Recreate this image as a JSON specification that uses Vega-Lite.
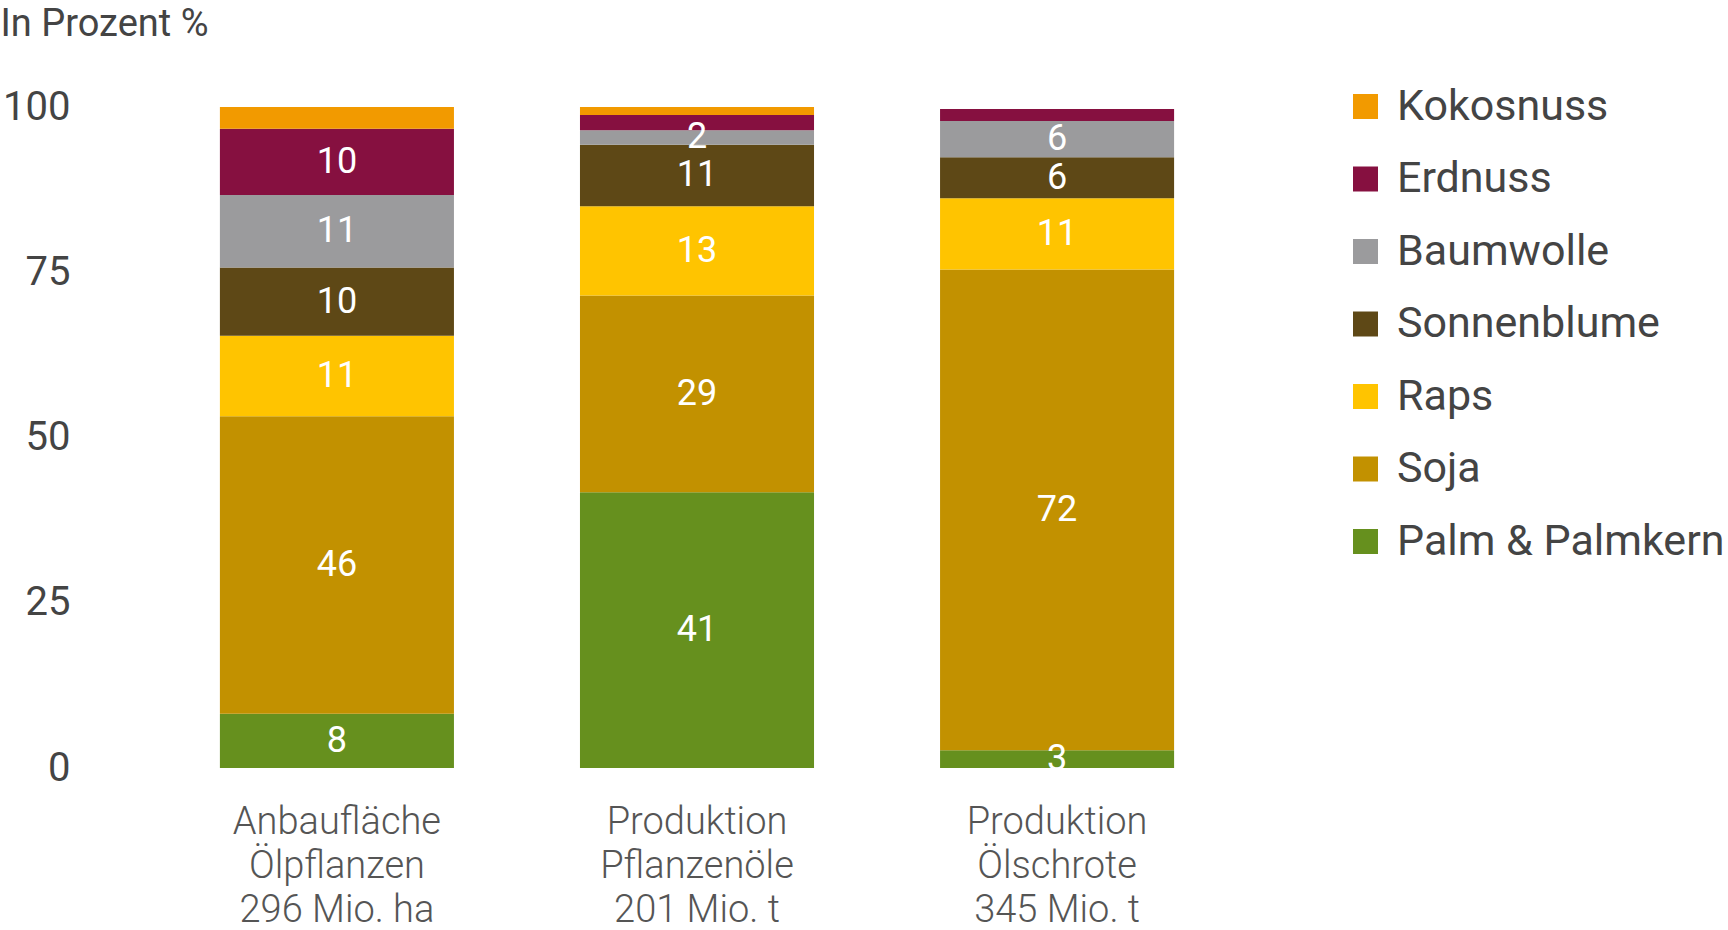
{
  "$schema": "https://vega.github.io/schema/vega-lite/v6.json",
  "width": 1194,
  "height": 661,
  "autosize": {"type": "none"},
  "padding": {"left": 100, "top": 107, "right": 434, "bottom": 162},
  "background": "white",
  "config": {"view": {"stroke": null}, "font": "Roboto"},
  "data": {
    "values": [
      {"kategorie": "Anbaufläche|Ölpflanzen|296 Mio. ha", "sorte": "Palm & Palmkern", "wert": 8.2, "label": "8", "ordnung": 1},
      {"kategorie": "Anbaufläche|Ölpflanzen|296 Mio. ha", "sorte": "Soja", "wert": 45, "label": "46", "ordnung": 2},
      {"kategorie": "Anbaufläche|Ölpflanzen|296 Mio. ha", "sorte": "Raps", "wert": 12.2, "label": "11", "ordnung": 3},
      {"kategorie": "Anbaufläche|Ölpflanzen|296 Mio. ha", "sorte": "Sonnenblume", "wert": 10.3, "label": "10", "ordnung": 4},
      {"kategorie": "Anbaufläche|Ölpflanzen|296 Mio. ha", "sorte": "Baumwolle", "wert": 11, "label": "11", "ordnung": 5},
      {"kategorie": "Anbaufläche|Ölpflanzen|296 Mio. ha", "sorte": "Erdnuss", "wert": 10, "label": "10", "ordnung": 6},
      {"kategorie": "Anbaufläche|Ölpflanzen|296 Mio. ha", "sorte": "Kokosnuss", "wert": 3.3, "label": "", "ordnung": 7},
      {"kategorie": "Produktion|Pflanzenöle|201 Mio. t", "sorte": "Palm & Palmkern", "wert": 41.7, "label": "41", "ordnung": 1},
      {"kategorie": "Produktion|Pflanzenöle|201 Mio. t", "sorte": "Soja", "wert": 29.8, "label": "29", "ordnung": 2},
      {"kategorie": "Produktion|Pflanzenöle|201 Mio. t", "sorte": "Raps", "wert": 13.5, "label": "13", "ordnung": 3},
      {"kategorie": "Produktion|Pflanzenöle|201 Mio. t", "sorte": "Sonnenblume", "wert": 9.3, "label": "11", "ordnung": 4},
      {"kategorie": "Produktion|Pflanzenöle|201 Mio. t", "sorte": "Baumwolle", "wert": 2.2, "label": "2", "ordnung": 5},
      {"kategorie": "Produktion|Pflanzenöle|201 Mio. t", "sorte": "Erdnuss", "wert": 2.3, "label": "", "ordnung": 6},
      {"kategorie": "Produktion|Pflanzenöle|201 Mio. t", "sorte": "Kokosnuss", "wert": 1.2, "label": "", "ordnung": 7},
      {"kategorie": "Produktion|Ölschrote|345 Mio. t", "sorte": "Palm & Palmkern", "wert": 2.7, "label": "3", "ordnung": 1},
      {"kategorie": "Produktion|Ölschrote|345 Mio. t", "sorte": "Soja", "wert": 72.7, "label": "72", "ordnung": 2},
      {"kategorie": "Produktion|Ölschrote|345 Mio. t", "sorte": "Raps", "wert": 10.8, "label": "11", "ordnung": 3},
      {"kategorie": "Produktion|Ölschrote|345 Mio. t", "sorte": "Sonnenblume", "wert": 6.2, "label": "6", "ordnung": 4},
      {"kategorie": "Produktion|Ölschrote|345 Mio. t", "sorte": "Baumwolle", "wert": 5.5, "label": "6", "ordnung": 5},
      {"kategorie": "Produktion|Ölschrote|345 Mio. t", "sorte": "Erdnuss", "wert": 1.8, "label": "", "ordnung": 6}
    ]
  },
  "transform": [
    {"stack": "wert", "groupby": ["kategorie"], "sort": [{"field": "ordnung", "order": "ascending"}], "as": ["unten", "oben"]}
  ],
  "encoding": {
    "x": {
      "field": "kategorie",
      "type": "nominal",
      "sort": null,
      "scale": {"paddingInner": 0.35, "paddingOuter": 0.333},
      "axis": {
        "title": null,
        "labelAngle": 0,
        "domain": false,
        "ticks": false,
        "labelExpr": "split(datum.label, '|')",
        "labelFontSize": 38,
        "labelColor": "#555555",
        "labelFontWeight": 300,
        "labelLineHeight": 44,
        "labelPadding": 35,
        "labelLimit": 500
      }
    }
  },
  "layer": [
    {
      "mark": {"type": "bar"},
      "encoding": {
        "y": {
          "field": "unten",
          "type": "quantitative",
          "scale": {"domain": [0, 100], "nice": false},
          "axis": {
            "title": "In Prozent %",
            "titleAngle": 0,
            "titleAlign": "left",
            "titleBaseline": "middle",
            "titleX": -100,
            "titleY": -83,
            "titleFontSize": 38,
            "titleFontWeight": "normal",
            "titleColor": "#444444",
            "values": [0, 25, 50, 75, 100],
            "labelFontSize": 40,
            "labelColor": "#444444",
            "domain": false,
            "ticks": false,
            "grid": false,
            "labelPadding": 30
          }
        },
        "y2": {"field": "oben"},
        "color": {
          "field": "sorte",
          "type": "nominal",
          "scale": {
            "domain": ["Kokosnuss", "Erdnuss", "Baumwolle", "Sonnenblume", "Raps", "Soja", "Palm & Palmkern"],
            "range": ["#F29A00", "#861040", "#9B9B9D", "#5E4816", "#FFC400", "#C29100", "#66901E"]
          },
          "legend": {
            "title": null,
            "orient": "none",
            "legendX": 1244,
            "legendY": -22,
            "symbolType": "square",
            "symbolSize": 625,
            "symbolStrokeWidth": 0,
            "labelFontSize": 43,
            "labelColor": "#444444",
            "labelLimit": 500,
            "rowPadding": 28.5,
            "labelOffset": 10,
            "padding": 0
          }
        }
      }
    },
    {
      "transform": [
        {"fold": ["unten", "oben"], "as": ["grenze", "pos"]},
        {"aggregate": [{"op": "mean", "field": "pos", "as": "mitte"}], "groupby": ["kategorie", "sorte", "label"]}
      ],
      "mark": {"type": "text", "color": "white", "fontSize": 36, "baseline": "middle"},
      "encoding": {
        "y": {
          "field": "mitte",
          "type": "quantitative",
          "scale": {"domain": [0, 100], "nice": false},
          "axis": {
            "title": "In Prozent %",
            "titleAngle": 0,
            "titleAlign": "left",
            "titleBaseline": "middle",
            "titleX": -100,
            "titleY": -83,
            "titleFontSize": 38,
            "titleFontWeight": "normal",
            "titleColor": "#444444",
            "values": [0, 25, 50, 75, 100],
            "labelFontSize": 40,
            "labelColor": "#444444",
            "domain": false,
            "ticks": false,
            "grid": false,
            "labelPadding": 30
          }
        },
        "text": {"field": "label"}
      }
    }
  ]
}
